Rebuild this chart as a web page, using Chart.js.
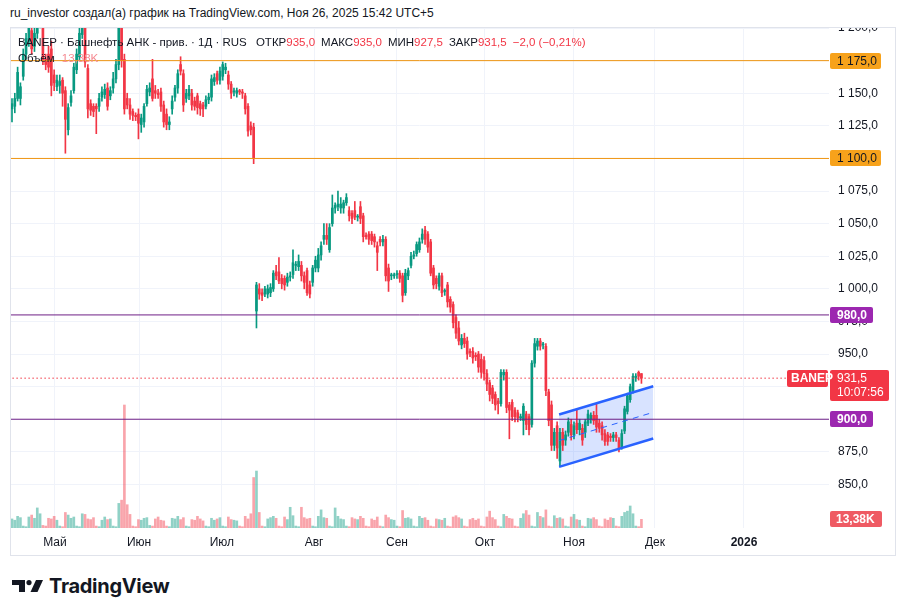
<!DOCTYPE html>
<html lang="ru">
<head>
<meta charset="utf-8">
<title>BANEP</title>
<script src="https://cdn.jsdelivr.net/npm/chart.js@4.4.1/dist/chart.umd.min.js"></script>
<style>
  html, body { margin: 0; padding: 0; background: #fff; }
  body { width: 906px; height: 616px; position: relative; overflow: hidden;
         font-family: "Liberation Sans", Arial, sans-serif; color: #131722; }
  #author { position: absolute; left: 10px; top: 6px; font-size: 12px; white-space: nowrap; }
  #wrap { position: absolute; left: 10px; top: 27px; width: 886px; height: 529px; }
  #frame { position: absolute; left: 10px; top: 27px; width: 886px; height: 529px;
           border: 1px solid #e0e3eb; box-sizing: border-box; pointer-events: none; }
  #legend { position: absolute; left: 18px; top: 34px; font-size: 11.5px; line-height: 16px; white-space: nowrap; }
  #legend .k { margin-left: 6px; }
  .r { color: #f23645; }
  .v { color: #f58a92; }
  #brand { position: absolute; left: 12px; top: 574px; height: 24px; display: flex; align-items: center; }
  #brand span { font-family: Inter, "Liberation Sans", sans-serif; font-weight: 700; font-size: 20px;
                letter-spacing: -0.3px; margin-left: 6px; color: #131722; }
</style>
</head>
<body>
<div id="author">ru_investor создал(а) график на TradingView.com, Ноя 26, 2025 15:42 UTC+5</div>
<div id="wrap"><canvas id="chart" width="886" height="529"></canvas></div>
<div id="frame"></div>
<div id="legend">
  <div>BANEP · Башнефть АНК - прив. · 1Д · RUS <span class="k">ОТКР<span class="r">935,0</span></span><span class="k">МАКС<span class="r">935,0</span></span><span class="k">МИН<span class="r">927,5</span></span><span class="k">ЗАКР<span class="r">931,5</span></span><span class="k r">−2,0 (−0,21%)</span></div>
  <div>Объём <span class="v" style="margin-left:4px">13,38K</span></div>
</div>
<div id="brand">
  <svg width="31" height="12" viewBox="0 0 31 12"><path d="M0 0H13V12H7V5H0Z" fill="#131722"/><circle cx="17" cy="2.6" r="2.6" fill="#131722"/><path d="M18.5 12L24 0H31L25.5 12Z" fill="#131722"/></svg>
  <span>TradingView</span>
</div>
<script>
// дневные свечи BANEP, 16 апр – 26 ноя 2025 (индекс = номер дня)
const opens = [
  1138,1140,1146,1146,1163,1180,1190,1198,1186,1196,
  1205,1212,1176,1180,1184,1164,1155,1156,1160,1152,
  1122,1143,1152,1168,1178,1195,1208,1169,1142,1140,
  1140,1140,1147,1149,1154,1148,1154,1161,1172,1210,
  1176,1146,1141,1136,1133,1134,1126,1128,1142,1151,
  1161,1152,1150,1151,1141,1134,1126,1138,1147,1154,
  1172,1165,1146,1148,1150,1144,1148,1142,1141,1140,
  1145,1147,1159,1165,1160,1163,1168,1164,1157,1151,
  1150,1152,1151,1148,1140,1125,1124,983,1000,997,
  996,996,997,1000,1013,1013,1008,1008,1005,1009,
  1011,1018,1017,1018,1010,1014,1003,1005,1016,1016,
  1026,1038,1041,1030,1050,1062,1063,1062,1062,1066,
  1060,1058,1060,1055,1063,1056,1041,1042,1042,1040,
  1033,1038,1036,1038,1016,1010,1010,1011,1012,1010,
  997,1010,1018,1025,1027,1030,1038,1045,1042,1036,
  1016,1008,1002,1010,998,1003,992,988,978,970,
  957,962,960,952,952,949,950,946,945,935,
  928,924,919,914,912,934,936,911,913,907,
  905,901,899,904,902,896,943,956,960,957,
  956,921,911,880,895,868,890,884,890,896,
  888,897,892,893,890,897,900,903,903,897,
  895,889,888,887,886,888,884,879,891,906,
  915,922,932,936,935
];
const highs = [
  1146,1150,1170,1158,1184,1196,1215,1204,1200,1220,
  1220,1215,1180,1186,1190,1168,1164,1164,1162,1155,
  1142,1152,1173,1184,1200,1218,1212,1172,1145,1142,
  1142,1150,1155,1157,1158,1155,1166,1176,1220,1218,
  1180,1150,1146,1138,1135,1138,1134,1142,1156,1158,
  1176,1156,1153,1154,1144,1138,1132,1148,1156,1168,
  1178,1168,1153,1156,1153,1147,1150,1144,1143,1148,
  1150,1164,1165,1167,1170,1174,1173,1167,1159,1154,
  1154,1153,1153,1150,1142,1128,1127,1005,1004,1000,
  1002,1003,1004,1014,1018,1024,1011,1010,1012,1013,
  1030,1021,1026,1021,1013,1016,1006,1018,1025,1031,
  1036,1050,1050,1050,1072,1066,1075,1070,1068,1073,
  1063,1060,1067,1057,1067,1058,1043,1044,1044,1042,
  1036,1040,1041,1040,1019,1012,1012,1014,1014,1012,
  1015,1016,1028,1029,1036,1039,1046,1048,1044,1038,
  1018,1010,1012,1012,1000,1005,994,990,980,975,
  965,966,963,954,955,951,952,950,948,938,
  930,926,921,916,938,938,938,913,915,909,
  907,904,912,906,904,945,962,962,962,959,
  958,923,914,893,898,893,893,891,901,900,
  898,908,900,896,900,907,905,906,912,900,
  898,892,890,889,890,890,886,892,910,920,
  927,935,935,937,935
];
const lows = [
  1128,1135,1144,1141,1160,1176,1186,1180,1182,1192,
  1200,1172,1168,1166,1148,1152,1152,1150,1140,1104,
  1118,1140,1150,1165,1175,1192,1170,1131,1133,1132,
  1119,1136,1144,1146,1137,1145,1150,1158,1168,1170,
  1134,1138,1130,1129,1129,1115,1120,1124,1140,1148,
  1144,1146,1146,1136,1124,1122,1122,1134,1144,1150,
  1164,1136,1143,1145,1137,1137,1134,1133,1132,1138,
  1142,1144,1156,1157,1157,1160,1165,1153,1146,1148,
  1147,1149,1146,1134,1117,1118,1096,970,992,991,
  994,993,994,998,1007,1004,1000,999,1002,1006,
  1008,1014,1014,1006,1000,995,993,1002,1013,1013,
  1022,1034,1034,1028,1048,1058,1060,1058,1058,1064,
  1052,1050,1053,1052,1050,1036,1038,1034,1034,1032,
  1014,1033,1033,1006,998,1007,1008,1008,1005,990,
  995,1007,1016,1023,1025,1028,1035,1034,1028,1010,
  1000,1000,999,994,995,986,982,970,962,957,
  954,955,946,948,943,945,936,932,930,922,
  914,912,907,904,910,930,905,885,899,898,
  898,899,888,892,888,894,940,953,953,954,
  918,895,876,876,870,864,876,880,887,884,
  885,889,888,880,886,895,897,896,890,890,
  884,880,880,883,883,883,875,877,889,904,
  913,920,929,930,927.5
];
const closes = [
  1142,1146,1166,1155,1180,1192,1210,1184,1196,1212,
  1215,1175,1172,1170,1156,1158,1160,1159,1150,1130,
  1139,1148,1170,1180,1196,1210,1174,1138,1137,1136,
  1138,1146,1151,1153,1140,1152,1161,1172,1212,1175,
  1138,1141,1134,1133,1132,1127,1131,1140,1153,1154,
  1146,1150,1149,1140,1128,1126,1128,1144,1154,1165,
  1167,1141,1150,1153,1141,1140,1139,1138,1138,1145,
  1147,1161,1162,1160,1167,1172,1170,1157,1150,1151,
  1152,1151,1150,1138,1121,1122,1100,1003,996,995,
  1000,1000,1001,1012,1010,1006,1004,1003,1009,1010,
  1020,1018,1021,1010,1005,997,996,1016,1022,1026,
  1033,1041,1038,1047,1062,1064,1065,1065,1066,1070,
  1056,1054,1055,1055,1054,1040,1040,1038,1037,1036,
  1028,1036,1038,1010,1006,1010,1010,1011,1008,995,
  1012,1014,1025,1026,1034,1036,1042,1038,1032,1012,
  1003,1004,1010,997,998,990,986,974,966,960,
  962,958,950,951,947,948,940,936,935,927,
  919,916,911,912,936,936,909,907,902,902,
  901,902,910,896,892,943,958,960,956,957,
  922,899,880,890,878,890,880,888,898,888,
  895,892,897,884,898,904,903,899,894,893,
  888,883,883,886,888,886,878,889,908,918,
  925,933,933,933,931.5
];
// объём, тыс.
const volumes = [
  14,12,18,16,3,2,17,20,15,31,
  22,4,3,15,14,18,12,3,2,24,
  20,15,17,3,2,22,21,14,13,16,
  3,2,12,17,13,14,3,2,38,43,
  190,36,21,3,2,13,12,15,16,4,
  3,14,17,12,11,3,2,15,14,18,
  13,16,3,2,13,12,18,14,11,3,
  2,15,12,14,16,3,2,17,13,12,
  11,3,2,18,14,22,78,88,24,3,
  2,14,16,18,15,3,2,17,13,32,
  19,3,2,32,16,14,15,3,2,18,
  28,16,15,3,2,31,18,14,13,3,
  2,16,14,13,18,15,3,2,14,12,
  17,3,2,20,16,13,12,3,2,27,
  15,16,14,3,2,18,15,16,12,3,
  2,14,13,12,15,3,2,17,19,16,
  14,3,2,13,15,12,14,3,2,17,
  26,16,13,3,2,21,18,15,14,3,
  2,15,22,27,20,3,2,24,18,16,
  28,3,2,19,15,16,14,3,2,17,
  21,13,12,3,2,15,14,16,13,3,
  2,14,12,16,15,3,2,18,24,26,
  34,22,3,2,13.38
];

const monthLabels = ["Май", "Июн", "Июл", "Авг", "Сен", "Окт", "Ноя", "Дек", "2026"];
const monthPos = [15.3, 45.2, 74.7, 107.5, 137.0, 168.3, 200.0, 228.8, 260.5];
const priceTicks = [850, 875, 900, 925, 950, 975, 1000, 1025, 1050, 1075, 1100, 1125, 1150, 1175, 1200];

const levels = [1175, 1100, 980, 900];
const lastPrice = 931.5;
const lastVolume = 13.38;

// канал: верхняя, средняя, нижняя линии (день, цена)
const chanX = [194.7, 228.2];
const chanUpper = [903.6, 925.3];
const chanMiddle = [883.6, 905.3];
const chanLower = [863.5, 885.2];

const GREEN = "#089981", RED = "#f23645";
const GREEN_V = "rgba(8,153,129,0.45)", RED_V = "rgba(242,54,69,0.45)";
const ORANGE = "#f7a21b", ORANGE_LINE = "#ee9410", PURPLE = "#9c27b0", PURPLE_LINE = "#6f1f86";
const FONT = '"Liberation Sans", Arial, sans-serif';

const X_MIN = -0.71, X_MAX = 290.75;

function fmt(v) {
  const s = v.toFixed(1).replace(".", ",");
  const [a, b] = s.split(",");
  return a.replace(/\B(?=(\d{3})+(?!\d))/g, " ") + "," + b;
}

const up = closes.map((c, i) => c >= opens[i]);
const candleCol = up.map(u => u ? GREEN : RED);

const hline = (v, color, dash, order) => ({
  type: "line", data: [{x: X_MIN - 2, y: v}, {x: X_MAX + 2, y: v}],
  borderColor: color, borderWidth: 1, borderDash: dash, pointRadius: 0, order
});

const datasets = [
  // канал
  { type: "line", data: chanX.map((x, i) => ({x, y: chanUpper[i]})), borderColor: "#2962ff", borderWidth: 2.5,
    pointRadius: 0, fill: "+1", backgroundColor: "rgba(41,98,255,0.18)", order: 0 },
  { type: "line", data: chanX.map((x, i) => ({x, y: chanLower[i]})), borderColor: "#2962ff", borderWidth: 2.5,
    pointRadius: 0, fill: false, order: 0 },
  { type: "line", data: chanX.map((x, i) => ({x, y: chanMiddle[i]})), borderColor: "#2962ff", borderWidth: 1,
    borderDash: [6, 5], pointRadius: 0, fill: false, order: 0 },
  hline(levels[0], ORANGE_LINE, [], 0),
  hline(levels[1], ORANGE_LINE, [], 0),
  hline(levels[2], PURPLE_LINE, [], 0),
  hline(levels[3], PURPLE_LINE, [], 0),
  hline(lastPrice, RED, [1.5, 2.5], 1),
  // тела
  { type: "bar", data: opens.map((o, i) => ({x: i, y: [Math.min(o, closes[i]), Math.max(o, closes[i])]})),
    backgroundColor: candleCol, barThickness: 2, minBarLength: 1, grouped: false, order: 2 },
  // тени
  { type: "bar", data: lows.map((l, i) => ({x: i, y: [l, highs[i]]})),
    backgroundColor: candleCol, barThickness: 1, grouped: false, order: 3 },
  // объём
  { type: "bar", yAxisID: "v", data: volumes.map((v, i) => ({x: i, y: v})),
    backgroundColor: up.map(u => u ? GREEN_V : RED_V), barThickness: 2, grouped: false, order: 4 }
];

const labelsPlugin = {
  id: "labels",
  afterDraw(chart) {
    const {ctx, chartArea, scales} = chart;
    const x0 = chartArea.right + 1;
    const box = (x, y, w, h, c) => {
      ctx.fillStyle = c;
      ctx.beginPath();
      ctx.roundRect(x, y, w, h, 2);
      ctx.fill();
    };
    ctx.save();
    ctx.textBaseline = "middle";
    ctx.textAlign = "left";
    levels.forEach((lv, i) => {
      const py = Math.round(scales.y.getPixelForValue(lv));
      const orange = i < 2;
      box(x0, py - 8, orange ? 51 : 43, 16, orange ? ORANGE : PURPLE);
      ctx.fillStyle = orange ? "#131722" : "#fff";
      ctx.font = (orange ? "" : "bold ") + "12px " + FONT;
      ctx.fillText(fmt(lv), x0 + 7, py + 0.5);
    });
    // текущая цена
    const pp = Math.round(scales.y.getPixelForValue(lastPrice));
    box(x0, pp - 8, 59, 31, RED);
    box(chartArea.right - 42, pp - 8, 41, 17, RED);
    ctx.fillStyle = "#fff";
    ctx.font = "bold 12px " + FONT;
    ctx.fillText("BANEP", chartArea.right - 38, pp + 1);
    ctx.font = "12px " + FONT;
    ctx.fillText(fmt(lastPrice), x0 + 7, pp + 1);
    ctx.fillText("10:07:56", x0 + 7, pp + 15);
    // объём
    const pv = Math.round(scales.v.getPixelForValue(lastVolume));
    box(x0, pv - 8, 52, 16, "#ef5a63");
    ctx.fillStyle = "#fff";
    ctx.font = "bold 12px " + FONT;
    ctx.fillText("13,38K", x0 + 6, pv + 0.5);
    ctx.restore();
  }
};

new Chart(document.getElementById("chart"), {
  type: "bar",
  data: { datasets },
  options: {
    responsive: false,
    animation: false,
    devicePixelRatio: 1,
    layout: { padding: 0 },
    plugins: { legend: { display: false }, tooltip: { enabled: false }, filler: { drawTime: "beforeDatasetsDraw" } },
    scales: {
      x: {
        type: "linear", position: "bottom", min: X_MIN, max: X_MAX, offset: false,
        grid: { color: "#f0f3fa", drawTicks: false, offset: false },
        border: { display: false },
        afterBuildTicks: s => { s.ticks = monthPos.map(v => ({value: v})); },
        afterFit: s => { s.height = 28; s.paddingLeft = 0; s.paddingRight = 0; },
        ticks: {
          autoSkip: false, maxRotation: 0, padding: 7, color: "#131722",
          font: ctx => ({ family: FONT, size: 12, weight: ctx.index === 8 ? "bold" : "normal" }),
          callback: (v, i) => monthLabels[i]
        }
      },
      y: {
        type: "linear", position: "right", min: 816.6, max: 1200.8,
        grid: { color: "#f0f3fa", drawTicks: false },
        border: { display: false },
        afterBuildTicks: s => { s.ticks = priceTicks.map(v => ({value: v})); },
        afterFit: s => { s.width = 67; s.paddingTop = 0; s.paddingBottom = 0; },
        ticks: { autoSkip: false, padding: 9, color: "#131722", font: { family: FONT, size: 12 }, callback: v => fmt(v) }
      },
      v: { type: "linear", display: false, min: 0, max: 774 }
    }
  },
  plugins: [labelsPlugin]
});
</script>
</body>
</html>
